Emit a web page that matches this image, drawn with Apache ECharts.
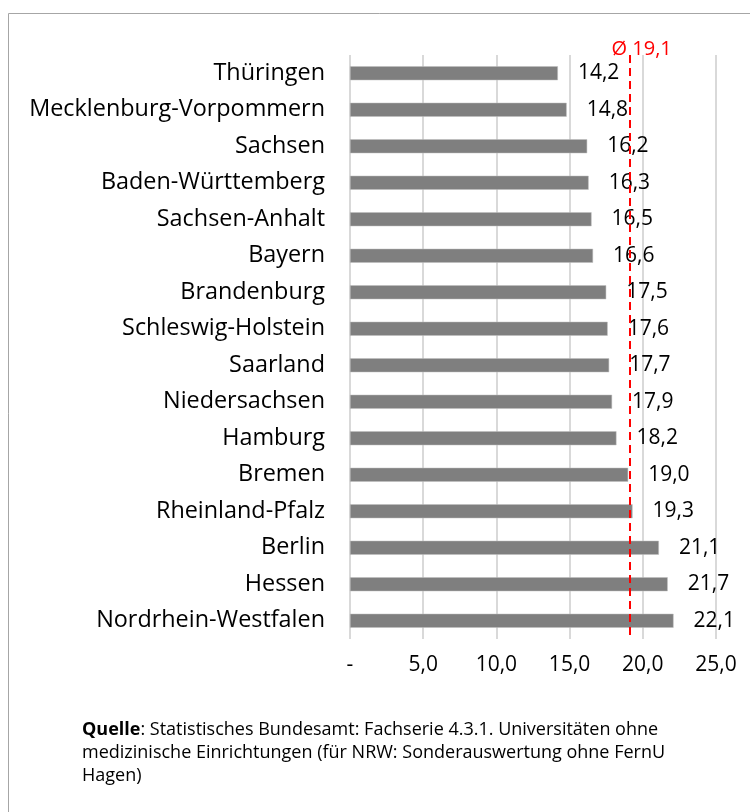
<!DOCTYPE html>
<html>
<head>
<meta charset="utf-8">
<script src="https://cdn.jsdelivr.net/npm/echarts@6/dist/echarts.min.js"></script>
<style>
html,body{margin:0;padding:0;background:#fff;}
#chart{width:750px;height:812px;}
</style>
</head>
<body>
<div id="chart"></div>
<script>
const categories = ["Thüringen","Mecklenburg-Vorpommern","Sachsen","Baden-Württemberg","Sachsen-Anhalt","Bayern","Brandenburg","Schleswig-Holstein","Saarland","Niedersachsen","Hamburg","Bremen","Rheinland-Pfalz","Berlin","Hessen","Nordrhein-Westfalen"];
const values = [14.2,14.8,16.2,16.3,16.5,16.6,17.5,17.6,17.7,17.9,18.2,19.0,19.3,21.1,21.7,22.1];
const average = 19.1;
const averageLabel = "Ø 19,1";
const xTicks = [0,5,10,15,20,25];
const sourceLines = [
  ["Quelle", ": Statistisches Bundesamt: Fachserie 4.3.1. Universitäten ohne"],
  ["", "medizinische Einrichtungen (für NRW: Sonderauswertung ohne FernU"],
  ["", "Hagen)"]
];

const fmt = v => v === 0 ? "-" : v.toFixed(1).replace(".", ",");
const FONT = "'Open Sans', sans-serif";

const chart = echarts.init(document.getElementById('chart'), null, {renderer: 'canvas'});

const sourceGraphics = sourceLines.map((ln, i) => ({
  type: 'text',
  left: 82,
  top: 721 + i * 23,
  style: {
    text: (ln[0] ? '{b|' + ln[0] + '}' : '') + '{n|' + ln[1] + '}',
    rich: {
      b: {fontFamily: FONT, fontSize: 18, fontWeight: 'bold', fill: '#000', color: '#000'},
      n: {fontFamily: FONT, fontSize: 18, fill: '#000', color: '#000'}
    },
    font: '18px ' + FONT,
    fill: '#000'
  }
}));

chart.setOption({
  animation: false,
  backgroundColor: '#fff',
  grid: {left: 350, right: 34, top: 55, bottom: 173, containLabel: false},
  xAxis: {
    type: 'value',
    min: xTicks[0],
    max: xTicks[xTicks.length - 1],
    interval: xTicks[1] - xTicks[0],
    axisLine: {show: false},
    axisTick: {show: false},
    splitLine: {show: true, lineStyle: {color: '#d9d9d9', width: 2}},
    axisLabel: {
      formatter: fmt,
      fontFamily: FONT,
      fontSize: 21,
      color: '#000',
      margin: 16
    }
  },
  yAxis: {
    type: 'category',
    data: categories,
    inverse: true,
    axisLine: {show: false},
    axisTick: {show: false},
    axisLabel: {
      fontFamily: FONT,
      fontSize: 23.4,
      color: '#000',
      margin: 25
    }
  },
  series: [{
    type: 'bar',
    data: values,
    barWidth: 14,
    itemStyle: {color: '#7f7f7f', borderColor: '#bfbfbf', borderWidth: 0.5},
    label: {
      show: true,
      position: 'right',
      distance: 20,
      formatter: p => fmt(p.value),
      fontFamily: FONT,
      fontSize: 21,
      color: '#000'
    },
    markLine: {
      symbol: 'none',
      silent: true,
      lineStyle: {color: '#ff0000', type: [8, 5], width: 2},
      label: {
        show: true,
        position: 'start',
        formatter: averageLabel,
        fontFamily: FONT,
        fontSize: 20,
        color: '#ff0000',
        offset: [12, 6],
        distance: 2
      },
      data: [{xAxis: average}]
    }
  }],
  graphic: [
    {
      type: 'rect',
      shape: {x: 8.5, y: 13.5, width: 800, height: 900},
      style: {fill: 'none', stroke: '#a6a6a6', lineWidth: 1},
      silent: true,
      z: -1
    }
  ].concat(sourceGraphics)
});
</script>
</body>
</html>
